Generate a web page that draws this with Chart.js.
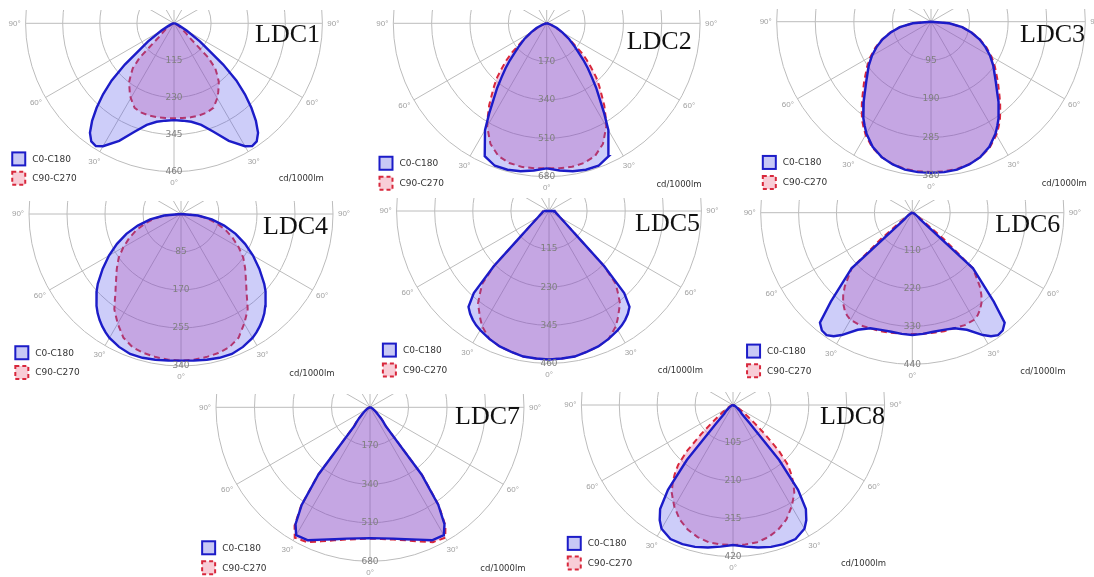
<!DOCTYPE html>
<html>
<head>
<meta charset="utf-8">
<script src="https://cdn.jsdelivr.net/npm/chart.js@4.4.1/dist/chart.umd.min.js"></script>
<style>
  html, body { margin: 0; padding: 0; background: #fff; }
  body { width: 1094px; height: 577px; position: relative; overflow: hidden; }
  canvas { position: absolute; }
</style>
</head>
<body>
<script>
// Ângulos das medições (graus, 0° = para baixo), o lado esquerdo é espelhado
const angulos = [0, 5, 10, 15, 20, 25, 30, 32.5, 35, 37.5, 40, 42.5, 45, 47.5, 50, 55, 60, 65, 70, 75, 80, 85, 90];

const ldc1C0  = [300, 303, 310, 326, 358, 402, 440, 451, 447, 428, 395, 355, 311, 262, 199, 98, 45, 19, 10, 5, 2, 1, 0];
const ldc1C90 = [294, 295, 296, 296, 295, 289, 268, 255, 241, 228, 208, 189, 150, 65, 50, 30, 15, 7, 3, 1, 0, 0, 0];
const ldc2C0  = [643, 655, 666, 672, 672, 650, 547, 475, 410, 360, 310, 270, 230, 192, 164, 121, 80, 50, 25, 12, 5, 2, 0];
const ldc2C90 = [643, 645, 646, 641, 626, 590, 528, 485, 445, 400, 362, 325, 280, 241, 200, 122, 75, 40, 18, 7, 2, 0, 0];
const ldc3C0  = [372, 372, 370, 364, 355, 340, 318, 304, 290, 274, 258, 242, 228, 216, 205, 187, 168, 148, 127, 103, 78, 45, 0];
const ldc3C90 = [370, 370, 368, 363, 355, 342, 322, 309, 296, 280, 265, 250, 236, 224, 212, 192, 172, 151, 129, 104, 78, 45, 0];
const ldc4C0  = [328, 329, 331, 333, 333, 328, 320, 314, 307, 299, 290, 279, 268, 256, 243, 214, 186, 158, 130, 100, 70, 38, 0];
const ldc4C90 = [328, 327, 325, 322, 317, 305, 283, 271, 260, 243, 228, 216, 205, 196, 187, 170, 149, 128, 107, 84, 62, 38, 0];
const ldc5C0  = [448, 447, 446, 440, 435, 426, 415, 409, 401, 391, 378, 336, 236, 127, 88, 54, 39, 31, 26, 22, 20, 18, 16];
const ldc5C90 = [448, 447, 446, 440, 435, 426, 403, 386, 368, 352, 324, 298, 236, 127, 88, 54, 39, 31, 26, 22, 20, 18, 16];
const ldc6C0  = [355, 353, 351, 352, 357, 375, 410, 425, 434, 431, 417, 350, 284, 239, 30, 18, 10, 6, 4, 2, 1, 0, 0];
const ldc6C90 = [352, 353, 354, 356, 357, 360, 359, 353, 343, 330, 312, 290, 262, 239, 118, 25, 12, 6, 3, 2, 1, 0, 0];
const ldc7C0  = [578, 581, 589, 603, 622, 648, 652, 612, 526, 374, 106, 87, 68, 50, 38, 25, 16, 10, 6, 4, 2, 1, 0];
const ldc7C90 = [580, 584, 593, 608, 630, 657, 665, 620, 530, 380, 112, 90, 70, 52, 40, 26, 16, 10, 6, 4, 2, 1, 0];
const ldc8C0  = [388, 394, 401, 407, 410, 410, 396, 378, 352, 296, 199, 66, 35, 28, 22, 14, 9, 6, 4, 2, 1, 0, 0];
const ldc8C90 = [388, 388, 386, 379, 367, 350, 325, 310, 296, 275, 252, 225, 180, 121, 77, 35, 18, 10, 6, 3, 2, 1, 0];

// Títulos e passo dos anéis (valores dos rótulos)
const titulos = ['LDC1', 'LDC2', 'LDC3', 'LDC4', 'LDC5', 'LDC6', 'LDC7', 'LDC8'];
const passosAneis = [115, 170, 95, 85, 115, 110, 170, 105];
const curvasC0 = [ldc1C0, ldc2C0, ldc3C0, ldc4C0, ldc5C0, ldc6C0, ldc7C0, ldc8C0];
const curvasC90 = [ldc1C90, ldc2C90, ldc3C90, ldc4C90, ldc5C90, ldc6C90, ldc7C90, ldc8C90];

// Posição de cada painel na página (centro do polar e raio do anel externo, px)
const paineis = [
    { cx: 174,   cy: 23.3,  raio: 148.4, tituloX: 146, tituloY: 10 },
    { cx: 546.7, cy: 23.3,  raio: 153.4, tituloX: 145, tituloY: 17 },
    { cx: 931,   cy: 21.7,  raio: 154.3, tituloX: 154, tituloY: 11 },
    { cx: 181,   cy: 214,   raio: 152,   tituloX: 147, tituloY: 11 },
    { cx: 549,   cy: 211,   raio: 152.4, tituloX: 151, tituloY: 11 },
    { cx: 912.3, cy: 212.7, raio: 151.6, tituloX: 148, tituloY: 10 },
    { cx: 370,   cy: 407.3, raio: 154,   tituloX: 150, tituloY: 8 },
    { cx: 733,   cy: 405,   raio: 151.6, tituloX: 152, tituloY: 10 }
];

const LARGURA = 370;
const ALTURA = 200;
const COR_AZUL = '#1c1cc8';
const COR_VERMELHO = '#d8283c';
const FUNDO_AZUL = 'rgba(90, 90, 235, 0.30)';
const FUNDO_VERMELHO = 'rgba(215, 70, 150, 0.30)';

// Converte (ângulo, intensidade) em x/y do gráfico
function polar(a, v) {
    const t = a * Math.PI / 180;
    return { x: v * Math.sin(t), y: -v * Math.cos(t) };
}

// Monta a curva fechada: de -90° até +90° passando por 0°
function pontosCurva(valores) {
    const pts = [];
    for (let i = angulos.length - 1; i >= 0; i--) pts.push(polar(-angulos[i], valores[i]));
    for (let i = 1; i < angulos.length; i++) pts.push(polar(angulos[i], valores[i]));
    pts.push(pts[0]);
    return pts;
}

// Plugin com a grade polar, rótulos, título e legenda
const gradePolar = {
    id: 'gradePolar',
    beforeDatasetsDraw(chart, args, opts) {
        const { ctx, scales: { x, y } } = chart;
        const ox = x.getPixelForValue(0);
        const oy = y.getPixelForValue(0);
        const rPx = v => x.getPixelForValue(v) - ox;
        const R = rPx(4 * opts.passo);
        ctx.save();
        ctx.strokeStyle = '#bcbcbc';
        ctx.lineWidth = 1;
        for (let k = 1; k <= 4; k++) {
            ctx.beginPath();
            ctx.arc(ox, oy, rPx(k * opts.passo), 0, 2 * Math.PI);
            ctx.stroke();
        }
        for (let a = 0; a < 360; a += 30) {
            const t = a * Math.PI / 180;
            ctx.beginPath();
            ctx.moveTo(ox, oy);
            ctx.lineTo(ox + R * Math.sin(t), oy + R * Math.cos(t));
            ctx.stroke();
        }
        ctx.restore();
    },
    afterDatasetsDraw(chart, args, opts) {
        const { ctx, scales: { x, y } } = chart;
        const ox = x.getPixelForValue(0);
        const oy = y.getPixelForValue(0);
        const rPx = v => x.getPixelForValue(v) - ox;
        const R = rPx(4 * opts.passo);
        ctx.save();

        // rótulos dos anéis
        ctx.font = '9px "DejaVu Sans"';
        ctx.fillStyle = '#808080';
        ctx.textAlign = 'center';
        ctx.textBaseline = 'middle';
        for (let k = 1; k <= 4; k++) {
            ctx.fillText(String(k * opts.passo), ox, oy + rPx(k * opts.passo));
        }

        // rótulos dos ângulos
        ctx.font = '8px "Liberation Sans"';
        ctx.fillStyle = '#a0a0a0';
        [-90, -60, -30, 0, 30, 60, 90].forEach(a => {
            const t = a * Math.PI / 180;
            ctx.fillText(Math.abs(a) + '°', ox + (R + 11) * Math.sin(t), oy + (R + 11) * Math.cos(t));
        });

        // título
        ctx.font = '26px "Liberation Serif"';
        ctx.fillStyle = '#111';
        ctx.textAlign = 'right';
        ctx.textBaseline = 'alphabetic';
        ctx.fillText(opts.titulo, ox + opts.tituloX, oy + opts.tituloY + 9);

        // legenda
        const lx = ox - 1.09 * R;
        const ly1 = oy + 0.87 * R;
        const ly2 = oy + 1.0 * R;
        ctx.lineWidth = 2;
        ctx.fillStyle = 'rgba(200, 200, 245, 1)';
        ctx.fillRect(lx, ly1, 13, 13);
        ctx.strokeStyle = COR_AZUL;
        ctx.strokeRect(lx, ly1, 13, 13);
        ctx.fillStyle = 'rgba(248, 205, 215, 1)';
        ctx.fillRect(lx, ly2, 13, 13);
        ctx.strokeStyle = COR_VERMELHO;
        ctx.setLineDash([4, 3]);
        ctx.strokeRect(lx, ly2, 13, 13);
        ctx.setLineDash([]);

        ctx.font = '9px "DejaVu Sans"';
        ctx.fillStyle = '#333';
        ctx.textAlign = 'left';
        ctx.textBaseline = 'middle';
        ctx.fillText('C0-C180', lx + 20, ly1 + 7);
        ctx.fillText('C90-C270', lx + 20, ly2 + 7);

        ctx.font = '8.5px "DejaVu Sans"';
        ctx.textAlign = 'right';
        ctx.fillText('cd/1000lm', ox + 1.01 * R, oy + 1.05 * R);
        ctx.restore();
    }
};

// Cria um gráfico para cada painel
paineis.forEach((p, i) => {
    const canvas = document.createElement('canvas');
    const left = Math.round(p.cx) - 185;
    const top = Math.round(p.cy) - 13;
    canvas.width = LARGURA;
    canvas.height = ALTURA;
    canvas.style.left = left + 'px';
    canvas.style.top = top + 'px';
    document.body.appendChild(canvas);

    const passo = passosAneis[i];
    const escala = p.raio / (4 * passo); // px por cd
    const ox = p.cx - left;
    const oy = p.cy - top;

    new Chart(canvas.getContext('2d'), {
        type: 'scatter',
        data: {
            datasets: [
                {
                    label: 'C0-C180',
                    data: pontosCurva(curvasC0[i]),
                    showLine: true,
                    borderColor: COR_AZUL,
                    borderWidth: 2.4,
                    backgroundColor: FUNDO_AZUL,
                    fill: 'shape',
                    pointRadius: 0,
                    tension: 0
                },
                {
                    label: 'C90-C270',
                    data: pontosCurva(curvasC90[i]),
                    showLine: true,
                    borderColor: COR_VERMELHO,
                    borderWidth: 2,
                    borderDash: [6, 4],
                    backgroundColor: FUNDO_VERMELHO,
                    fill: 'shape',
                    pointRadius: 0,
                    tension: 0
                }
            ]
        },
        options: {
            responsive: false,
            animation: false,
            devicePixelRatio: 1,
            events: [],
            layout: { padding: 0 },
            scales: {
                x: { type: 'linear', display: false, min: -ox / escala, max: (LARGURA - ox) / escala },
                y: { type: 'linear', display: false, min: -(ALTURA - oy) / escala, max: oy / escala }
            },
            plugins: {
                legend: { display: false },
                tooltip: { enabled: false },
                gradePolar: { passo: passo, titulo: titulos[i], tituloX: p.tituloX, tituloY: p.tituloY }
            }
        },
        plugins: [gradePolar]
    });
});
</script>
</body>
</html>
